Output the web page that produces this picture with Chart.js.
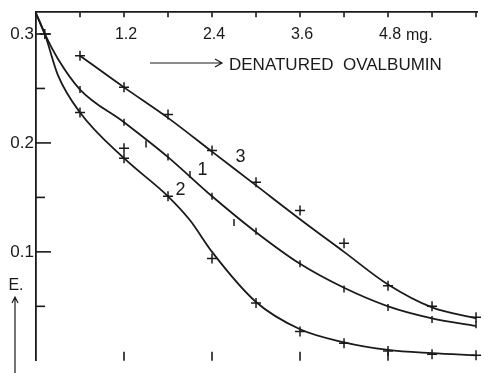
<!DOCTYPE html>
<html>
<head>
<meta charset="utf-8">
<script src="https://cdn.jsdelivr.net/npm/chart.js@4"></script>
<style>
  html, body { margin: 0; padding: 0; background: #fff; }
  #wrap { width: 484px; height: 373px; }
</style>
</head>
<body>
<div id="wrap"><canvas id="chart" width="484" height="373"></canvas></div>
<script>
// ---- data (x = mg denatured ovalbumin, y = extinction E.) ----
const xTopLabels = [1.2, 2.4, 3.6, 4.8];
const yTickLabels = [0.1, 0.2, 0.3];

// curve 3: measured points and drawn curve
const curve3X = [0.6, 1.2, 1.8, 2.4, 3.0, 3.6, 4.2, 4.8, 5.4, 6.0];
const curve3Pts = [0.280, 0.251, 0.226, 0.193, 0.164, 0.138, 0.108, 0.069, 0.050, 0.040];
const curve3Line = [0.280, 0.251, 0.223, 0.192, 0.161, 0.130, 0.100, 0.070, 0.049, 0.039];

// curve 1
const curve1X = [0.6, 1.2, 1.5, 1.8, 2.1, 2.4, 2.7, 3.0, 3.6, 4.2, 4.8, 5.4, 6.0];
const curve1Pts = [0.249, 0.219, 0.199, 0.187, 0.171, 0.151, 0.127, 0.119, 0.089, 0.066, 0.049, 0.038, 0.033];
const curve1LineX = [0, 0.12, 0.3, 0.6, 1.2, 1.8, 2.4, 3.0, 3.6, 4.2, 4.8, 5.4, 6.0];
const curve1Line = [0.319, 0.300, 0.277, 0.249, 0.219, 0.187, 0.151, 0.118, 0.089, 0.067, 0.050, 0.039, 0.032];

// curve 2
const curve2X = [0.12, 0.6, 1.2, 1.2, 1.8, 2.4, 3.0, 3.6, 4.2, 4.8, 5.4, 6.0];
const curve2Pts = [0.300, 0.228, 0.195, 0.186, 0.151, 0.094, 0.053, 0.027, 0.016, 0.009, 0.006, 0.005];
const curve2LineX = [0, 0.12, 0.3, 0.6, 1.2, 1.8, 2.1, 2.4, 3.0, 3.6, 4.2, 4.8, 5.4, 6.0];
const curve2Line = [0.319, 0.300, 0.262, 0.228, 0.186, 0.151, 0.129, 0.100, 0.054, 0.029, 0.017, 0.010, 0.007, 0.005];

// curve number labels (placed in data units)
const curveLabels = [
    { text: "1", x: 2.27, y: 0.175 },
    { text: "2", x: 1.97, y: 0.157 },
    { text: "3", x: 2.79, y: 0.187 }
];

const INK = "#1a1a1a";
const FONT = "'Liberation Sans', Arial, sans-serif";

const toPts = (xs, ys) => xs.map((x, i) => ({ x: x, y: ys[i] }));

function lineSet(xs, ys) {
    return {
        data: toPts(xs, ys),
        showLine: true,
        pointRadius: 0,
        borderColor: INK,
        borderWidth: 1.8,
        cubicInterpolationMode: 'monotone',
        clip: false
    };
}

function markSet(xs, ys, style, r) {
    return {
        data: toPts(xs, ys),
        showLine: false,
        pointStyle: style,
        rotation: style === 'line' ? 90 : 0,
        pointRadius: r,
        borderColor: INK,
        backgroundColor: INK,
        borderWidth: 1.5,
        clip: false
    };
}

// axis ticks drawn inward, top labels, title arrow, E. arrow, curve labels
const decorations = {
    id: 'decorations',
    afterDraw(chart) {
        const ctx = chart.ctx;
        const xs = chart.scales.x, ys = chart.scales.y;
        const area = chart.chartArea;
        ctx.save();
        ctx.strokeStyle = INK;
        ctx.fillStyle = INK;
        ctx.lineWidth = 1.6;

        // y ticks (inside)
        for (let v = 0.05; v < 0.31; v += 0.05) {
            const y = ys.getPixelForValue(v);
            const major = Math.abs(v * 10 - Math.round(v * 10)) < 0.01;
            ctx.beginPath();
            ctx.moveTo(area.left, y);
            ctx.lineTo(area.left + (major ? 15 : 9), y);
            ctx.stroke();
        }
        // top x ticks (inside)
        for (let v = 0.6; v < 6.01; v += 0.6) {
            const x = xs.getPixelForValue(v);
            ctx.beginPath();
            ctx.moveTo(x, area.top);
            ctx.lineTo(x, area.top + 5);
            ctx.stroke();
        }
        // bottom short ticks
        xTopLabels.forEach(v => {
            const x = xs.getPixelForValue(v);
            ctx.beginPath();
            ctx.moveTo(x, area.bottom - 9);
            ctx.lineTo(x, area.bottom);
            ctx.stroke();
        });

        // top tick labels
        ctx.font = "16px " + FONT;
        ctx.textAlign = 'center';
        ctx.textBaseline = 'middle';
        xTopLabels.forEach(v => {
            ctx.fillText(v.toFixed(1), xs.getPixelForValue(v) + 2, 35);
        });
        ctx.textAlign = 'left';
        ctx.fillText("mg.", xs.getPixelForValue(4.8) + 18, 36);

        // axis title with arrow
        ctx.lineWidth = 1.2;
        ctx.beginPath();
        ctx.moveTo(150, 63);
        ctx.lineTo(222, 63);
        ctx.moveTo(215, 59);
        ctx.lineTo(222, 63);
        ctx.lineTo(215, 67);
        ctx.stroke();
        ctx.font = "17px " + FONT;
        ctx.textAlign = 'left';
        ctx.fillText("DENATURED  OVALBUMIN", 229, 65);

        // E. with upward arrow
        ctx.font = "16px " + FONT;
        ctx.textAlign = 'center';
        ctx.fillText("E.", 16, 286);
        ctx.beginPath();
        ctx.moveTo(15, 373);
        ctx.lineTo(15, 297);
        ctx.moveTo(12, 303);
        ctx.lineTo(15, 297);
        ctx.lineTo(18, 303);
        ctx.stroke();

        // curve numbers
        ctx.font = "18px " + FONT;
        curveLabels.forEach(l => {
            ctx.fillText(l.text, xs.getPixelForValue(l.x), ys.getPixelForValue(l.y));
        });
        ctx.restore();
    }
};

new Chart(document.getElementById('chart'), {
    type: 'scatter',
    data: {
        datasets: [
            lineSet(curve3X, curve3Line),
            lineSet(curve1LineX, curve1Line),
            lineSet(curve2LineX, curve2Line),
            markSet(curve3X, curve3Pts, 'cross', 5),
            markSet(curve1X, curve1Pts, 'line', 3.5),
            markSet(curve2X, curve2Pts, 'cross', 5)
        ]
    },
    options: {
        responsive: false,
        animation: false,
        layout: { padding: 0 },
        plugins: { legend: { display: false }, tooltip: { enabled: false } },
        scales: {
            x: {
                type: 'linear',
                position: 'top',
                min: 0,
                max: 6.02,
                grid: { display: false, drawTicks: false },
                border: { display: true, color: INK, width: 1.8 },
                ticks: { display: false },
                afterFit(scale) { scale.height = 11; }
            },
            y: {
                type: 'linear',
                min: 0,
                max: 0.32,
                grid: { display: false, drawTicks: false },
                border: { display: true, color: INK, width: 1.8 },
                ticks: {
                    stepSize: 0.1,
                    padding: 2,
                    color: INK,
                    font: { family: FONT, size: 17 },
                    callback: (v) => yTickLabels.some(t => Math.abs(t - v) < 1e-6) ? v.toFixed(1) : ''
                },
                afterFit(scale) { scale.width = 36; }
            }
        }
    },
    plugins: [decorations]
});
</script>
</body>
</html>
